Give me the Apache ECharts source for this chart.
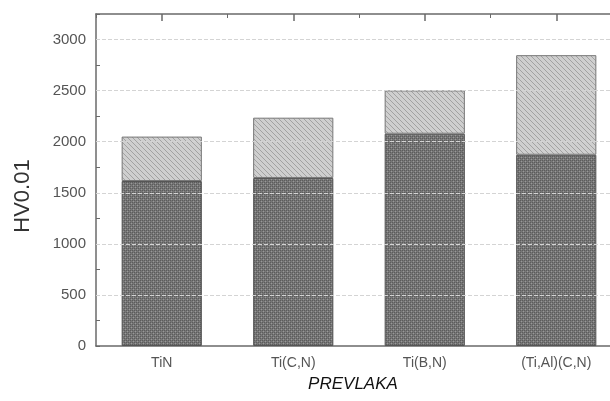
<!DOCTYPE html>
<html><head><meta charset="utf-8">
<script src="https://cdn.jsdelivr.net/npm/echarts@6/dist/echarts.min.js"></script>
<style>html,body{margin:0;padding:0;background:#fff;overflow:hidden}#c{width:623px;height:401px}</style>
</head><body><div id="c"></div>
<script>
const categories = ['TiN', 'Ti(C,N)', 'Ti(B,N)', '(Ti,Al)(C,N)'];
const baseValues = [1615, 1645, 2078, 1872];
const topValues = [435, 590, 424, 975];
const yTicks = [0, 500, 1000, 1500, 2000, 2500, 3000];

function makePattern(kind) {
  const c = document.createElement('canvas');
  const ctx = c.getContext('2d');
  if (kind === 'dark') {
    c.width = 4; c.height = 4;
    ctx.fillStyle = '#767676'; ctx.fillRect(0, 0, 4, 4);
    ctx.fillStyle = '#5c5c5c';
    ctx.fillRect(0, 0, 1, 1); ctx.fillRect(2, 2, 1, 1);
    ctx.fillRect(2, 0, 1, 1); ctx.fillRect(0, 2, 1, 1);
    ctx.fillStyle = '#999999';
    ctx.fillRect(1, 1, 1, 1); ctx.fillRect(3, 3, 1, 1);
  } else {
    c.width = 5; c.height = 5;
    ctx.fillStyle = '#cfcfcf'; ctx.fillRect(0, 0, 5, 5);
    ctx.fillStyle = '#a2a2a2';
    for (let i = 0; i < 5; i++) ctx.fillRect(i, i, 1, 1);
  }
  return { image: c, repeat: 'repeat' };
}

const chart = echarts.init(document.getElementById('c'));
const axisGray = '#6a6a6a';
chart.setOption({
  animation: false,
  grid: { left: 96, top: 14, right: 1, bottom: 55, containLabel: false },
  xAxis: [{
    type: 'category', data: categories, boundaryGap: true,
    axisLine: { lineStyle: { color: axisGray, width: 1.5 } },
    axisTick: { show: false },
    axisLabel: { color: '#555', fontSize: 14, margin: 10, fontFamily: 'Liberation Sans' },
    name: 'PREVLAKA', nameLocation: 'middle', nameGap: 30,
    nameTextStyle: { fontStyle: 'italic', fontSize: 17, color: '#111', fontFamily: 'Liberation Sans', padding: [0, 12, 0, 0] }
  }, {
    type: 'category', data: categories, position: 'top', boundaryGap: true,
    axisLine: { lineStyle: { color: axisGray, width: 1.5 } },
    axisTick: { show: true, inside: true, length: 4, alignWithLabel: false, lineStyle: { color: axisGray } },
    axisLabel: { show: false }
  }, {
    type: 'category', data: categories, position: 'top', boundaryGap: true,
    axisLine: { show: false },
    axisTick: { show: true, inside: true, length: 7, alignWithLabel: true, lineStyle: { color: axisGray, width: 1.5 } },
    axisLabel: { show: false }
  }],
  yAxis: {
    type: 'value', min: 0, max: 3250, interval: 250,
    axisLine: { show: true, lineStyle: { color: axisGray, width: 1.5 } },
    axisTick: { show: true, inside: true, length: 4, lineStyle: { color: axisGray } },
    axisLabel: {
      color: '#555', fontSize: 15, margin: 10, fontFamily: 'Liberation Sans',
      formatter: v => yTicks.includes(v) ? String(v) : ''
    },
    splitLine: { show: false },
    name: 'HV0.01', nameLocation: 'middle', nameGap: 62, nameRotate: 90,
    nameTextStyle: { fontSize: 22, color: '#333', fontFamily: 'Liberation Sans', padding: [0, 32, 0, 0] }
  },
  series: [{
    type: 'bar', stack: 'hv', data: baseValues, barWidth: '61%',
    itemStyle: { color: makePattern('dark'), borderColor: '#555', borderWidth: 1 }
  }, {
    type: 'bar', stack: 'hv', data: topValues, barWidth: '61%',
    itemStyle: { color: makePattern('light'), borderColor: '#777', borderWidth: 1 }
  }, {
    type: 'line', data: [], silent: true,
    markLine: { symbol: 'none', silent: true, label: { show: false },
      lineStyle: { color: '#d4d4d4', type: 'dashed', width: 1 },
      data: yTicks.filter(v => v > 0).map(v => ({ yAxis: v })) }
  }]
});
</script></body></html>
